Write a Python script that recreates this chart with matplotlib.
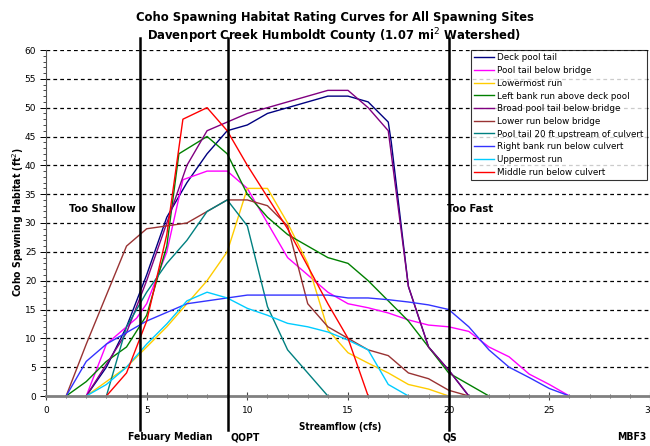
import matplotlib
matplotlib.use('Agg')
import matplotlib.pyplot as plt
from matplotlib.ticker import MultipleLocator

# Habitat rating curves (flow in cfs, habitat in ft^2)
deck_x = [2, 3, 4, 5, 6, 7, 8, 9, 10, 11, 12, 13, 14, 15, 16, 17, 17.15, 18, 19, 20, 21]
deck_y = [0, 5, 12, 21, 31, 37, 42, 46, 47, 49, 50, 51, 52, 52, 51, 47.5, 44, 19, 8.5, 4.5, 0]

bridge_x = [2, 3, 4, 4.5, 5, 6, 6.8, 8, 9, 10, 11, 12, 13, 14, 15, 16, 17, 18, 19, 20, 21, 22, 23, 24, 25, 26]
bridge_y = [0, 9, 12, 13.5, 16, 25, 37.5, 39, 39, 36, 30, 24, 21, 18, 16, 15.3, 14.4, 13.2, 12.3, 12, 11.2, 8.5, 6.8, 3.8, 2, 0]

lowermost_x = [2, 3, 4, 5, 6, 7, 8, 9, 10, 11, 12, 13, 14, 15, 16, 17, 18, 19, 20]
lowermost_y = [0, 2.5, 5, 8.5, 12, 16, 20, 25, 36, 36, 30, 23, 11.5, 7.5, 5.7, 4, 2, 1.2, 0]

leftbank_x = [1, 2, 3, 4, 5, 6, 6.6, 8, 9, 10, 11, 12, 13, 14, 15, 16, 17, 18, 19, 20, 21, 22]
leftbank_y = [0, 2.5, 6, 8.5, 14, 26, 42, 45, 42, 35, 31, 28, 26, 24, 23, 20, 16.5, 13, 8.5, 4, 2, 0]

broad_x = [2, 3, 4, 5, 6, 7, 8, 9, 10, 11, 12, 13, 14, 15, 16, 17, 18, 19, 20, 21]
broad_y = [0, 5.5, 11, 20, 30, 40, 46, 47.5, 49, 50, 51, 52, 53, 53, 50, 46, 19, 8.5, 4.5, 0]

lowerrun_x = [1, 2, 3, 4, 5, 6, 7, 8, 9, 10, 11, 12, 13, 14, 15, 16, 17, 18, 19, 20, 21]
lowerrun_y = [0, 9, 17.5, 26, 29, 29.5, 30, 32, 34, 34, 33, 29.5, 16, 12, 10, 8, 7, 4, 3, 1, 0]

culvert20_x = [3, 4, 5, 6, 7, 8, 9, 10, 11, 12, 13, 14]
culvert20_y = [0, 12, 18, 23, 27, 32, 34, 29.5, 15.5, 8, 4, 0]

rightbank_x = [1, 2, 3, 4, 5, 6, 7, 8, 9, 10, 11, 12, 13, 14, 15, 16, 17, 18, 19, 20, 21, 22, 23, 24, 25, 26]
rightbank_y = [0, 6, 9, 11, 13, 14.5, 16, 16.5, 17, 17.5, 17.5, 17.5, 17.5, 17.5, 17, 17, 16.7, 16.3, 15.8, 15, 12, 8, 5, 3.2, 1.3, 0]

uppermost_x = [2, 3, 4, 5, 6, 7, 8, 9, 10, 11, 12, 13, 14, 15, 16, 17, 18]
uppermost_y = [0, 2, 5, 9, 12.5, 16.5, 18, 17, 15.2, 14, 12.6, 12, 11.1, 9.7, 8, 2, 0]

middle_x = [3, 4, 5, 6, 6.8, 8, 9, 10, 11, 12, 13, 14, 15, 16]
middle_y = [0, 4, 13, 28, 48, 50, 46, 40, 34.5, 29, 22.5, 16, 10, 0]

series = [
    ('Deck pool tail', deck_x, deck_y, '#000080'),
    ('Pool tail below bridge', bridge_x, bridge_y, '#FF00FF'),
    ('Lowermost run', lowermost_x, lowermost_y, '#FFCC00'),
    ('Left bank run above deck pool', leftbank_x, leftbank_y, '#008000'),
    ('Broad pool tail below bridge', broad_x, broad_y, '#800080'),
    ('Lower run below bridge', lowerrun_x, lowerrun_y, '#993333'),
    ('Pool tail 20 ft upstream of culvert', culvert20_x, culvert20_y, '#008080'),
    ('Right bank run below culvert', rightbank_x, rightbank_y, '#3333FF'),
    ('Uppermost run', uppermost_x, uppermost_y, '#00CCFF'),
    ('Middle run below culvert', middle_x, middle_y, '#FF0000'),
]

# reference flows drawn as vertical markers
ref_flows = [4.67, 9.05, 20.0]
ref_labels = ['Febuary Median', 'QOPT', 'QS']

bold_narrow = dict(family='DejaVu Sans', stretch='condensed', fontweight='bold')

fig = plt.figure(figsize=(6.5, 4.46), dpi=100)
ax = fig.add_axes([46 / 650, 1 - 396 / 446, 604 / 650, 346 / 446])

for name, xs, ys, col in series:
    ax.plot(xs, ys, color=col, lw=1.0, label=name)

ax.set_xlim(0, 30)
ax.set_ylim(0, 60)

for yv in range(5, 65, 5):
    ax.axhline(yv, color='black', lw=0.9, ls=(0, (3, 2.5)), zorder=0)

for xv in ref_flows:
    ax.axvline(xv, ymin=-0.098, ymax=1.035, color='black', lw=1.8, clip_on=False, zorder=5)

ax.xaxis.set_major_locator(MultipleLocator(5))
ax.xaxis.set_minor_locator(MultipleLocator(1))
ax.yaxis.set_major_locator(MultipleLocator(5))
ax.yaxis.set_minor_locator(MultipleLocator(1))
ax.tick_params(axis='x', which='major', direction='inout', length=6, width=0.8, labelsize=6.5, pad=4, colors='#444444', labelcolor='black')
ax.tick_params(axis='x', which='minor', direction='inout', length=3, width=0.6, colors='#444444')
ax.tick_params(axis='y', which='major', direction='out', length=4, width=0.7, labelsize=6.5, pad=3)
ax.tick_params(axis='y', which='minor', direction='out', length=2, width=0.5)

for s in ['top', 'right']:
    ax.spines[s].set_visible(False)
ax.spines['bottom'].set_color('#808080')
ax.spines['bottom'].set_linewidth(2)
ax.spines['left'].set_color('#555555')
ax.spines['left'].set_linewidth(0.8)

leg = ax.legend(loc='upper left', bbox_to_anchor=(0.703, 1.0), borderaxespad=0,
                fontsize=6.3, handlelength=2.3, labelspacing=0.42, handletextpad=0.3,
                frameon=True, fancybox=False, edgecolor='black', borderpad=0.4)
leg.get_frame().set_linewidth(0.8)

ax.text(4.45, 32.4, 'Too Shallow', ha='right', va='center', fontsize=8, **bold_narrow)
ax.text(19.9, 32.4, 'Too Fast', ha='left', va='center', fontsize=8, **bold_narrow)

fig.text(335 / 650, 1 - 18 / 446, 'Coho Spawning Habitat Rating Curves for All Spawning Sites',
         ha='center', va='center', fontsize=9.3, **bold_narrow)
fig.text(334 / 650, 1 - 36 / 446, 'Davenport Creek Humboldt County (1.07 mi$^2$ Watershed)',
         ha='center', va='center', fontsize=9.3, **bold_narrow)

fig.text(18 / 650, 1 - 222 / 446, 'Coho Spawning Habitat (ft$^2$)', rotation=90,
         ha='center', va='center', fontsize=7.5, **bold_narrow)
fig.text(340 / 650, 1 - 427 / 446, 'Streamflow (cfs)', ha='center', va='center',
         fontsize=7, **bold_narrow)

label_px = [170, 245, 450, 632]
for px, lab in zip(label_px, ref_labels + ['MBF3']):
    fig.text(px / 650, 1 - 437 / 446, lab, ha='center', va='center', fontsize=7.5, **bold_narrow)

fig.savefig('out.png', dpi=100)
